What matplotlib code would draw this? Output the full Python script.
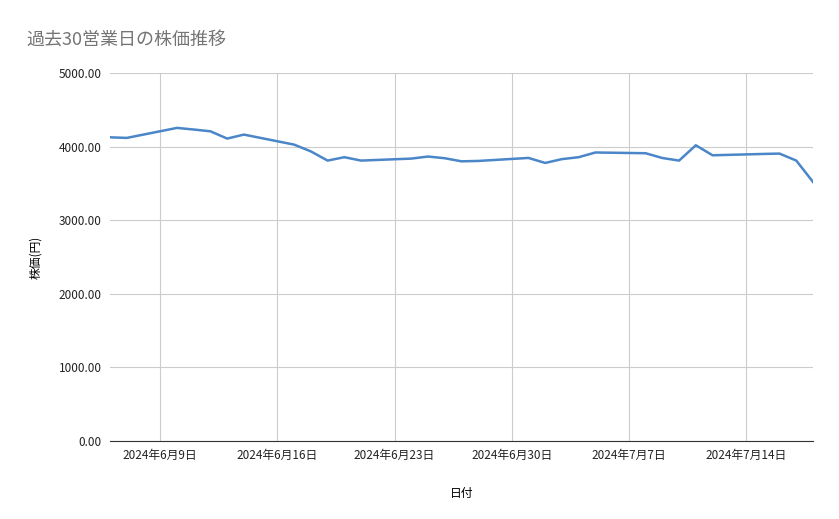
import matplotlib
matplotlib.use("Agg")
import matplotlib.pyplot as plt
import matplotlib.dates as mdates
import pandas as pd

plt.rcParams['font.family'] = ['Noto Sans CJK JP', 'DejaVu Sans']

dates = ["2024-06-06","2024-06-07","2024-06-10","2024-06-11","2024-06-12","2024-06-13","2024-06-14",
         "2024-06-17","2024-06-18","2024-06-19","2024-06-20","2024-06-21",
         "2024-06-24","2024-06-25","2024-06-26","2024-06-27","2024-06-28",
         "2024-07-01","2024-07-02","2024-07-03","2024-07-04","2024-07-05",
         "2024-07-08","2024-07-09","2024-07-10","2024-07-11","2024-07-12",
         "2024-07-15","2024-07-16","2024-07-17","2024-07-18"]
prices = [4126,4118,4254,4232,4208,4109,4163,
          4027,3935,3810,3856,3810,
          3837,3865,3842,3800,3805,
          3846,3778,3830,3856,3920,
          3910,3845,3810,4018,3882,
          3900,3905,3810,3520]
tick_dates = ["2024-06-09","2024-06-16","2024-06-23","2024-06-30","2024-07-07","2024-07-14"]
tick_labels = ["2024年6月9日","2024年6月16日","2024年6月23日","2024年6月30日","2024年7月7日","2024年7月14日"]

x = pd.to_datetime(dates)
fig = plt.figure(figsize=(8.39, 5.19), dpi=100)
ax = fig.add_axes([110/839, 1-441/519, (813-110)/839, (441-73)/519])
ax.plot(x, prices, color="#4a86c8", lw=1.8)
ax.set_xlim(x[0], x[-1])
ax.set_ylim(0, 5000)
ax.set_yticks([0,1000,2000,3000,4000,5000])
ax.set_yticklabels([f"{v:.2f}" for v in [0,1000,2000,3000,4000,5000]])
ax.set_xticks(pd.to_datetime(tick_dates))
ax.set_xticklabels(tick_labels)
ax.grid(True, color="#cccccc", lw=0.8)
ax.set_axisbelow(True)
for s in ["top","right","left"]:
    ax.spines[s].set_visible(False)
ax.spines["bottom"].set_color("#333333")
ax.tick_params(length=0, labelsize=8.5, colors="#222222", pad=6)
ax.set_xlabel("日付", fontsize=8.5, labelpad=18)
ax.set_ylabel("株価(円)", fontsize=8.5, labelpad=12)
fig.text(26/839, 1-40/519, "過去30営業日の株価推移", fontsize=13, color="#757575", va="center")
fig.savefig("out.png")
